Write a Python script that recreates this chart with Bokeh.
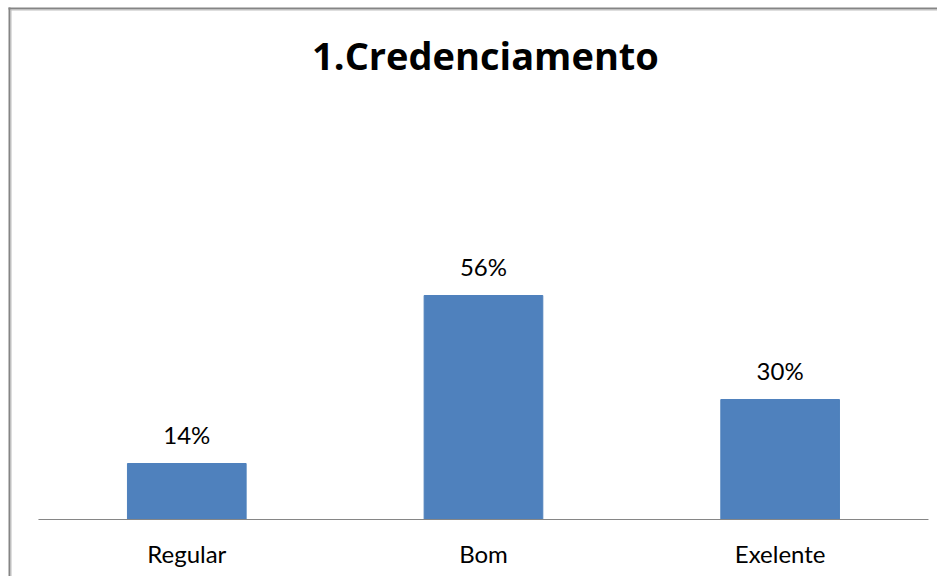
from bokeh.plotting import figure
from bokeh.models import ColumnDataSource, Range1d, Label
from bokeh.core.properties import value
from bokeh.embed import file_html
from bokeh.resources import INLINE

# ---- data ----
categories = ["Regular", "Bom", "Exelente"]
percent_values = [14, 56, 30]
value_labels = ["14%", "56%", "30%"]
title_text = "1.Credenciamento"

# ---- layout constants ----
W, H = 937, 576
PX_PER_UNIT = 4.0          # vertical pixels per percent
BASE_Y = 519               # canvas y of baseline (from top)
BAND_PX = 296.67           # pixels per category band
FIRST_CENTER = 186.3       # canvas x of first category centre

x_start = -FIRST_CENTER / BAND_PX
x_end = (W - FIRST_CENTER) / BAND_PX
y_end = BASE_Y / PX_PER_UNIT
y_start = -(H - BASE_Y) / PX_PER_UNIT


def cx(px):
    return x_start + px / BAND_PX


def cy(py):
    return y_end - py / PX_PER_UNIT


xs = list(range(len(categories)))
src = ColumnDataSource(dict(x=xs, top=percent_values, cat=categories, lab=value_labels))

p = figure(width=W, height=H, output_backend="svg", toolbar_location=None,
           x_range=Range1d(x_start, x_end), y_range=Range1d(y_start, y_end),
           x_axis_location=None, y_axis_location=None, min_border=0,
           background_fill_color="white", border_fill_color="white")
p.outline_line_color = None
p.xgrid.visible = False
p.ygrid.visible = False

# chart border (only left and top edges fall inside the window)
p.segment(x0=[cx(9), cx(10.5), cx(8), cx(10)],
          y0=[cy(7), cy(9), cy(8), cy(9.5)],
          x1=[cx(9), cx(10.5), x_end, x_end],
          y1=[y_start, y_start, cy(8), cy(9.5)],
          line_color=["#858585", "#BDBDBD", "#858585", "#BDBDBD"],
          line_width=[2, 1, 2, 1])

# bars
p.vbar(x="x", top="top", bottom=0, width=0.4, source=src,
       fill_color="#4F81BD", line_color="#4F81BD", line_width=1)

# category axis line
p.segment(x0=[-0.5], y0=[0], x1=[len(categories) - 0.5], y1=[0],
          line_color="#868686", line_width=1)

# value labels
p.text(x="x", y="top", text="lab", source=src, text_align="center",
       text_baseline="alphabetic", y_offset=-29,
       text_font=value("Lato"), text_font_size="24px", text_color="#000000")

# category labels
p.text(x="x", y=0, text="cat", source=src, text_align="center",
       text_baseline="alphabetic", y_offset=34,
       text_font=value("Lato"), text_font_size="24px", text_color="#000000")

# title
p.add_layout(Label(x=1 + 2 / BAND_PX, y=cy(54), text=title_text,
                   text_align="center", text_baseline="alphabetic",
                   text_font="Open Sans", text_font_style="bold",
                   text_font_size="38px", text_color="#000000"))

open("out.html", "w").write(file_html(p, INLINE))
